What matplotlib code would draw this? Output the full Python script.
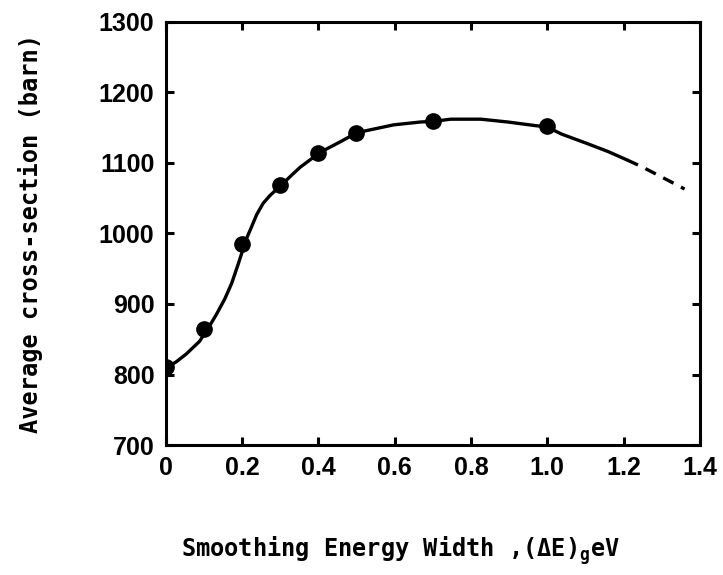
import matplotlib
matplotlib.use("Agg")
import matplotlib.pyplot as plt

# measured points (smoothing width in eV, average cross-section in barn)
points_x = [0.0, 0.1, 0.2, 0.3, 0.4, 0.5, 0.7, 1.0]
points_y = [810, 865, 985, 1068, 1114, 1143, 1159, 1152]

# hand-drawn curve
curve_x = [0.0, 0.028, 0.054, 0.089, 0.111, 0.133, 0.155, 0.173, 0.19,
           0.199, 0.206, 0.225, 0.239, 0.256, 0.274, 0.302, 0.335, 0.353,
           0.405, 0.458, 0.502, 0.537, 0.598, 0.668, 0.703, 0.747, 0.826,
           0.897, 0.967, 1.0, 1.037, 1.107, 1.16, 1.21]
curve_y = [809, 818, 829, 847, 865, 885, 907, 929, 956,
           971, 985, 1009, 1027, 1043, 1054, 1068, 1085, 1094,
           1115, 1130, 1143, 1147, 1154, 1158, 1159, 1162, 1162,
           1158, 1153, 1151, 1141, 1127, 1116, 1104]

# dashed extrapolation
dash_x = [1.21, 1.25, 1.30, 1.36]
dash_y = [1104, 1094, 1080, 1063]

xticks = [0, 0.2, 0.4, 0.6, 0.8, 1.0, 1.2, 1.4]
xtick_labels = ["0", "0.2", "0.4", "0.6", "0.8", "1.0", "1.2", "1.4"]
yticks = [700, 800, 900, 1000, 1100, 1200, 1300]

plt.rcParams["mathtext.fontset"] = "custom"
plt.rcParams["mathtext.rm"] = "DejaVu Sans Mono:bold"

fig = plt.figure(figsize=(7.23, 5.75), dpi=100)
ax = fig.add_axes([0.229, 0.226, 0.739, 0.736])

ax.plot(curve_x, curve_y, color="black", lw=2.4, solid_capstyle="round",
        solid_joinstyle="round")
ax.plot(dash_x, dash_y, color="black", lw=2.4, dashes=(3.5, 2.5))
ax.plot(points_x, points_y, "o", color="black", ms=11, zorder=3)

ax.set_xlim(0, 1.4)
ax.set_ylim(700, 1300)
ax.set_xticks(xticks)
ax.set_xticklabels(xtick_labels)
ax.set_yticks(yticks)

for s in ax.spines.values():
    s.set_linewidth(2.2)
ax.tick_params(direction="in", length=6, width=2.2, top=True, right=True,
               labelsize=18, pad=8)
for lab in ax.get_xticklabels() + ax.get_yticklabels():
    lab.set_fontfamily("Liberation Sans")
    lab.set_fontweight("bold")

ax.set_xlabel(r"Smoothing Energy Width ,($\Delta$E)$_{\rm g}$eV",
              fontfamily="DejaVu Sans Mono", fontweight="bold", fontsize=17)
ax.xaxis.set_label_coords(0.44, -0.212)
ax.set_ylabel("Average cross-section (barn)",
              fontfamily="DejaVu Sans Mono", fontweight="bold", fontsize=17,
              labelpad=40)

fig.savefig("out.png", dpi=100)
